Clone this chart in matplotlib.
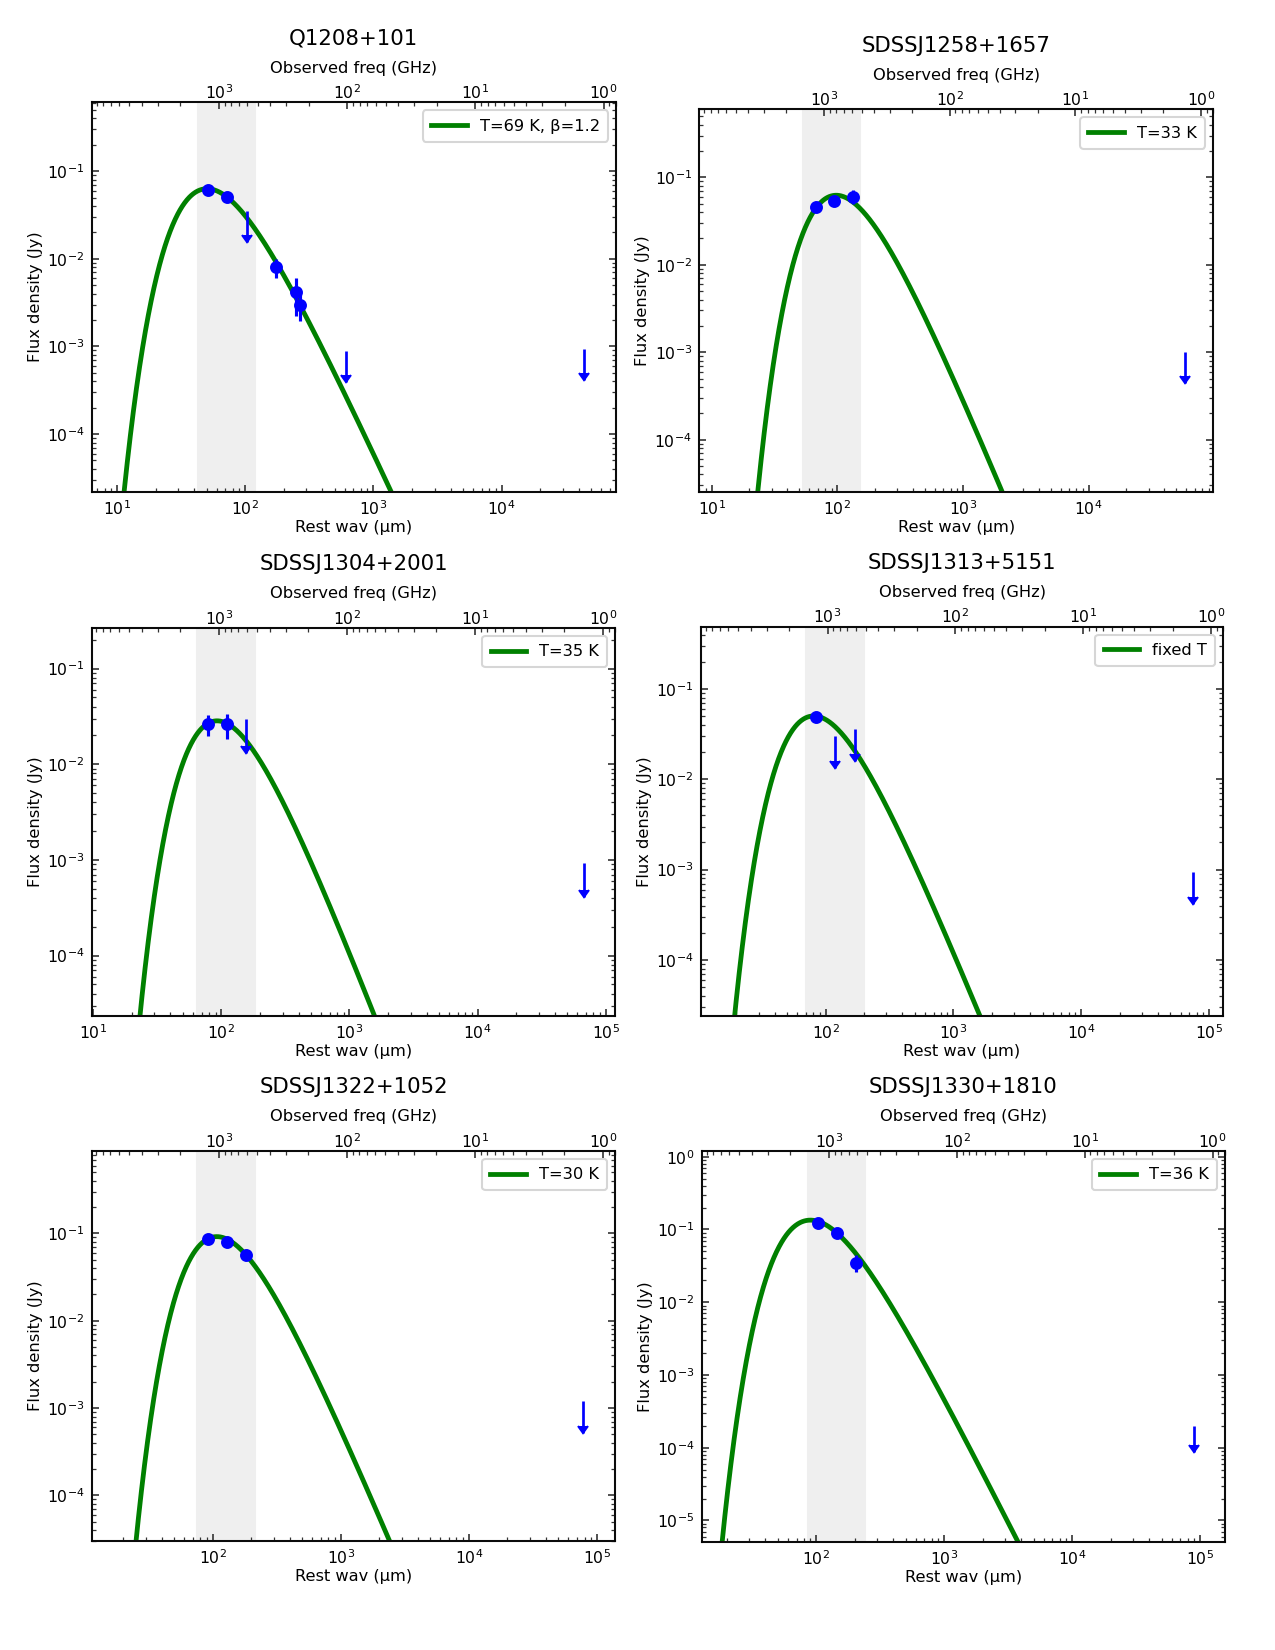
import numpy as np
import matplotlib.pyplot as plt

# ---- data ----
names = ['Q1208+101', 'SDSSJ1258+1657', 'SDSSJ1304+2001',
         'SDSSJ1313+5151', 'SDSSJ1322+1052', 'SDSSJ1330+1810']
redshift = [3.80, 2.82, 2.15, 1.89, 1.69, 1.40]
fit_labels = ['T=69 K, β=1.2', 'T=33 K', 'T=35 K', 'fixed T', 'T=30 K', 'T=36 K']
temps = [69, 33, 35, 40, 30, 36]
betas = [1.2, 1.5, 1.5, 1.5, 1.5, 1.5]
peak_flux = [0.063, 0.0624, 0.0284, 0.0503, 0.092, 0.1345]

# detections: rest wavelength (um), flux (Jy), error (Jy)
det_wav = [[51.4, 72.6, 175, 248, 269],
           [67.5, 94.2, 134.3],
           [78.7, 110.4],
           [84.9],
           [91.6, 129.3, 182.4],
           [103, 143.9, 205.5]]
det_flux = [[0.061, 0.0513, 0.008, 0.00414, 0.00296],
            [0.0462, 0.0534, 0.0601],
            [0.0262, 0.026],
            [0.049],
            [0.087, 0.0788, 0.0569],
            [0.1225, 0.0888, 0.035]]
det_err = [[0.004, 0.004, 0.002, 0.0019, 0.001],
           [0.004, 0.005, 0.011],
           [0.0065, 0.0075],
           [0.003],
           [0.005, 0.005, 0.004],
           [0.008, 0.007, 0.009]]

# upper limits: rest wavelength (um), flux (Jy)
lim_wav = [[102.6, 615, 44250],
           [58000],
           [156, 68100],
           [119.5, 170.6, 74800],
           [78300],
           [90200]]
lim_flux = [[0.0355, 8.9e-4, 9.3e-4],
            [1.0e-3],
            [0.0298, 9.25e-4],
            [0.030, 0.0363, 9.46e-4],
            [1.19e-3],
            [1.99e-4]]

ylims = [(2.2e-5, 0.61), (2.5e-5, 0.60), (2.34e-5, 0.265),
         (2.39e-5, 0.49), (3.0e-5, 0.88), (5.1e-6, 1.2)]

obs_range = [30.5, 3.75e5]      # observed wavelength range (um)
band_obs = [205, 575]           # shaded band, observed wavelength (um)

# axes boxes in pixels (left, top, right, bottom)
boxes = [(91.7, 102.3, 616, 491.7), (699.3, 109.3, 1213.3, 492.3),
         (91.5, 628, 615.4, 1016), (700.7, 626.7, 1223.4, 1016),
         (91.5, 1151, 615.4, 1541), (701.7, 1151, 1225, 1541.7)]

c_um_ghz = 2.998e5      # c in um*GHz
h_over_k = 0.04799      # K / GHz

W, H = 1275, 1650
fig = plt.figure(figsize=(8.5, 11), dpi=150)

for i in range(6):
    l, t, r, b = boxes[i]
    ax = fig.add_axes([l / W, 1 - b / H, (r - l) / W, (b - t) / H])
    zp1 = 1 + redshift[i]

    # modified blackbody, rest frame
    wav = np.logspace(0, 6, 3000)
    nu = c_um_ghz / wav
    sed = nu ** (3 + betas[i]) / np.expm1(h_over_k * nu / temps[i])
    sed = sed / sed.max() * peak_flux[i]

    ax.axvspan(band_obs[0] / zp1, band_obs[1] / zp1, color='#efefef', zorder=0)
    ax.plot(wav, sed, color='green', lw=2.3, label=fit_labels[i], zorder=2)
    ax.errorbar(det_wav[i], det_flux[i], yerr=det_err[i], fmt='o', color='blue',
                ms=5.2, elinewidth=1.5, capsize=0, zorder=3)
    # upper limits: line down from the value, then a caret
    lf = np.array(lim_flux[i])
    ax.vlines(lim_wav[i], 0.44 * lf, lf, color='blue', lw=1.3, zorder=3)
    ax.plot(lim_wav[i], 0.44 * lf, ls='none', marker=7, color='blue',
            ms=4.8, zorder=3)

    ax.set_xscale('log')
    ax.set_yscale('log')
    xl = (obs_range[0] / zp1, obs_range[1] / zp1)
    ax.set_xlim(xl)
    ax.set_ylim(ylims[i])
    ax.set_xlabel('Rest wav (μm)', fontsize=7.8, labelpad=1)
    ax.set_ylabel('Flux density (Jy)', fontsize=7.8, labelpad=2)
    ax.tick_params(which='both', direction='in', top=False, right=True,
                   labelsize=7.5, color='#333333')
    ax.tick_params(which='major', length=3.5, width=0.8)
    ax.tick_params(which='minor', length=1.8, width=0.6)
    for s in ax.spines.values():
        s.set_color('#444444')
        s.set_linewidth(1.0)
    leg = ax.legend(loc='upper right', fontsize=7.8, handlelength=2.2,
                    borderpad=0.5, fancybox=True)
    leg.get_frame().set_edgecolor('#cccccc')

    ax2 = ax.twiny()
    ax2.set_xscale('log')
    ax2.set_xlim(c_um_ghz / (xl[0] * zp1), c_um_ghz / (xl[1] * zp1))
    ax2.set_xlabel('Observed freq (GHz)', fontsize=7.8, labelpad=5)
    ax2.tick_params(which='both', direction='in', labelsize=7.5,
                    color='#333333', pad=0.2)
    ax2.tick_params(which='major', length=3.5, width=0.8)
    ax2.tick_params(which='minor', length=1.8, width=0.6)
    ax2.set_title(names[i], fontsize=10.2, pad=7.8)

fig.savefig('out.png', dpi=150)
